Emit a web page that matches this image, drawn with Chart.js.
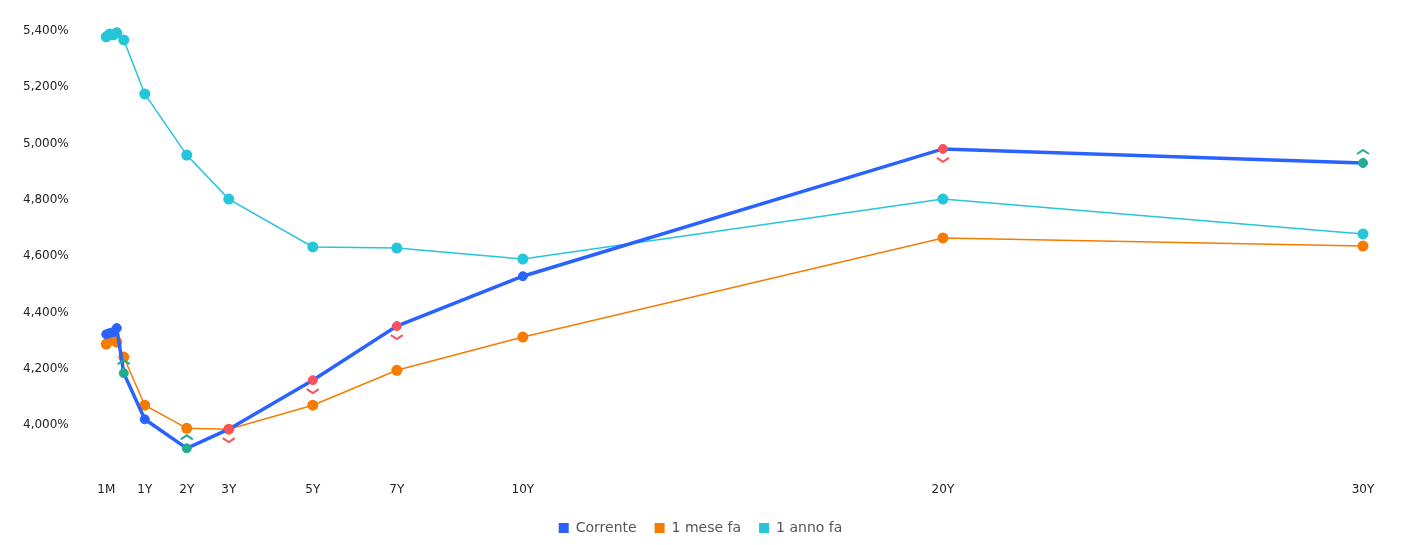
<!DOCTYPE html>
<html>
<head>
<meta charset="utf-8">
<script src="https://cdn.jsdelivr.net/npm/chart.js@4.4.0/dist/chart.umd.min.js"></script>
<style>
  html, body { margin: 0; padding: 0; background: #fff; }
  #box { width: 1402px; height: 545px; }
</style>
</head>
<body>
<div id="box"><canvas id="chart-curva"></canvas></div>
<script>
// scadenze in anni (1M, 2M, 3M, 4M, 6M, 1Y ... 30Y)
const scadenze = [1/12, 2/12, 3/12, 4/12, 0.5, 1, 2, 3, 5, 7, 10, 20, 30];

const corrente = [4.323, 4.327, 4.331, 4.345, 4.185, 4.021, 3.918, 3.986, 4.160, 4.352, 4.529, 4.981, 4.931];
const meseFa   = [4.288, 4.300, 4.309, 4.295, 4.242, 4.071, 3.989, 3.986, 4.071, 4.195, 4.313, 4.665, 4.636];
const annoFa   = [5.379, 5.389, 5.386, 5.393, 5.368, 5.176, 4.959, 4.803, 4.633, 4.629, 4.590, 4.803, 4.679];

// 1 = su (verde), -1 = giu (rosso), 0 = niente
const direzione = [0, 0, 0, 0, 1, 0, 1, -1, -1, -1, 0, -1, 1];

const tickX = [1/12, 1, 2, 3, 5, 7, 10, 20, 30];
const tickXLabel = ["1M", "1Y", "2Y", "3Y", "5Y", "7Y", "10Y", "20Y", "30Y"];
const tickY = [4.0, 4.2, 4.4, 4.6, 4.8, 5.0, 5.2, 5.4];

const BLU = "#2962FF";
const ARANCIO = "#F57C00";
const CIANO = "#26C6DA";
const VERDE = "#22AB94";
const ROSSO = "#F7525F";

function punti(valori) {
  return valori.map((v, i) => ({ x: scadenze[i], y: v }));
}

const coloriCorrente = direzione.map(d => d == 1 ? VERDE : (d == -1 ? ROSSO : BLU));

const frecce = {
  id: 'frecce',
  afterDatasetsDraw(chart) {
    const meta = chart.getDatasetMeta(0);
    const ctx = chart.ctx;
    ctx.save();
    ctx.lineWidth = 2;
    ctx.lineJoin = 'miter';
    meta.data.forEach((p, i) => {
      const d = direzione[i];
      if (d == 0) return;
      ctx.strokeStyle = d == 1 ? VERDE : ROSSO;
      ctx.beginPath();
      if (d == 1) {
        ctx.moveTo(p.x - 6, p.y - 9);
        ctx.lineTo(p.x, p.y - 13);
        ctx.lineTo(p.x + 6, p.y - 9);
      } else {
        ctx.moveTo(p.x - 6, p.y + 9);
        ctx.lineTo(p.x, p.y + 13);
        ctx.lineTo(p.x + 6, p.y + 9);
      }
      ctx.stroke();
    });
    ctx.restore();
  }
};

const ctx = document.getElementById("chart-curva");

new Chart(ctx, {
  type: "line",
  data: {
    datasets: [
      {
        label: "Corrente",
        data: punti(corrente),
        borderColor: BLU,
        backgroundColor: BLU,
        borderWidth: 3.5,
        pointRadius: 4.5,
        pointBackgroundColor: coloriCorrente,
        pointBorderColor: coloriCorrente,
        pointBorderWidth: 1,
        tension: 0
      },
      {
        label: "1 mese fa",
        data: punti(meseFa),
        borderColor: ARANCIO,
        backgroundColor: ARANCIO,
        borderWidth: 1.5,
        pointRadius: 5.5,
        pointBorderWidth: 0,
        tension: 0
      },
      {
        label: "1 anno fa",
        data: punti(annoFa),
        borderColor: CIANO,
        backgroundColor: CIANO,
        borderWidth: 1.5,
        pointRadius: 5.5,
        pointBorderWidth: 0,
        tension: 0
      }
    ]
  },
  options: {
    responsive: true,
    maintainAspectRatio: false,
    animation: false,
    layout: {
      padding: { left: 17, right: 18, top: 23, bottom: 0 }
    },
    plugins: {
      legend: {
        position: 'bottom',
        labels: {
          boxWidth: 10,
          boxHeight: 10,
          color: '#555',
          padding: 18,
          font: { family: 'DejaVu Sans', size: 14 },
          generateLabels(chart) {
            const items = Chart.defaults.plugins.legend.labels.generateLabels(chart);
            items.forEach(it => { it.lineWidth = 0; });
            return items;
          }
        }
      },
      tooltip: { enabled: false }
    },
    scales: {
      x: {
        type: 'linear',
        min: -0.476,
        max: 30.5,
        grid: { display: false },
        border: { display: false },
        afterBuildTicks(axis) {
          axis.ticks = tickX.map(v => ({ value: v }));
        },
        ticks: {
          autoSkip: false,
          maxRotation: 0,
          padding: 6,
          color: '#222',
          font: { family: 'DejaVu Sans', size: 12 },
          callback: function (v, i) { return tickXLabel[i]; }
        }
      },
      y: {
        min: 3.846,
        max: 5.428,
        grid: { display: false },
        border: { display: false },
        afterBuildTicks(axis) {
          axis.ticks = tickY.map(v => ({ value: v }));
        },
        ticks: {
          padding: 6,
          color: '#222',
          font: { family: 'DejaVu Sans', size: 12 },
          callback: function (v) { return v.toFixed(3).replace('.', ',') + '%'; }
        }
      }
    }
  },
  plugins: [frecce]
});
</script>
</body>
</html>
